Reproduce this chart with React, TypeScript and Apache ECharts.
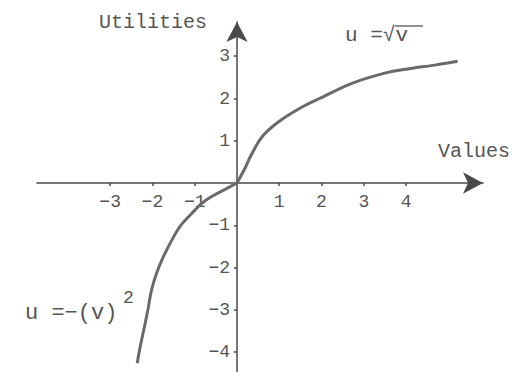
import React, { useEffect, useRef } from "react";
import * as echarts from "echarts";

// Tick positions shown on each axis (no label at the origin)
const xTickValues = [-3, -2, -1, 1, 2, 3, 4];
const yTickValues = [-4, -3, -2, -1, 1, 2, 3];

// Gain branch: u = sqrt(v)
const gainCurve: [number, number][] = [
  [0, 0],
  [0.19, 0.35],
  [0.31, 0.61],
  [0.59, 1.09],
  [0.97, 1.44],
  [1.54, 1.8],
  [1.95, 2.0],
  [2.72, 2.36],
  [3.5, 2.6],
  [4.04, 2.7],
  [4.68, 2.79],
  [5.22, 2.88],
];

// Loss branch: u = -(v)^2
const lossCurve: [number, number][] = [
  [0, 0],
  [-0.28, -0.15],
  [-0.6, -0.32],
  [-0.83, -0.48],
  [-1.07, -0.72],
  [-1.35, -1.03],
  [-1.54, -1.35],
  [-1.74, -1.74],
  [-1.9, -2.13],
  [-2.02, -2.53],
  [-2.1, -2.96],
  [-2.17, -3.31],
  [-2.29, -3.88],
  [-2.36, -4.26],
];

const FONT = "'Liberation Mono', 'Courier New', monospace";
const AXIS_COLOR = "#4a4a4a";
const TEXT_COLOR = "#555555";
const CURVE_COLOR = "#6a6a6a";

const minusFormatter = (v: number) => (v < 0 ? "\u2212" + Math.abs(v) : String(v));

export default function App() {
  const ref = useRef<HTMLDivElement>(null);

  useEffect(() => {
    if (!ref.current) return;
    const chart = echarts.init(ref.current, null, { renderer: "svg" });

    const axisLine = {
      onZero: false,
      symbol: ["none", "arrow"],
      symbolSize: [16, 20],
      lineStyle: { color: AXIS_COLOR, width: 1.5 },
    };

    chart.setOption({
      animation: false,
      backgroundColor: "#ffffff",
      grid: {
        left: 37,
        right: 29,
        top: 22,
        bottom: 0,
        containLabel: false,
        outerBoundsMode: "none",
      },
      xAxis: {
        type: "value",
        position: "bottom",
        // shift the axis up so it crosses the y axis at u = 0
        offset: -189,
        min: -4.73,
        max: 5.82,
        name: "Values",
        nameLocation: "end",
        nameGap: -45,
        nameMoveOverlap: false,
        nameTextStyle: {
          fontFamily: FONT,
          fontSize: 20,
          color: TEXT_COLOR,
          align: "left",
          verticalAlign: "bottom",
          padding: [0, 0, 22, 0],
        },
        axisLine,
        axisTick: {
          show: true,
          customValues: xTickValues,
          length: 3,
          lineStyle: { color: AXIS_COLOR, width: 1.5 },
        },
        axisLabel: {
          customValues: xTickValues,
          margin: 10,
          fontFamily: FONT,
          fontSize: 18,
          color: TEXT_COLOR,
          formatter: minusFormatter,
        },
        splitLine: { show: false },
      },
      yAxis: {
        type: "value",
        position: "left",
        // shift the axis right so it crosses the x axis at v = 0
        offset: -200,
        min: -4.47,
        max: 3.81,
        name: "Utilities",
        nameLocation: "end",
        nameGap: 0,
        nameMoveOverlap: false,
        nameTextStyle: {
          fontFamily: FONT,
          fontSize: 20,
          color: TEXT_COLOR,
          align: "right",
          verticalAlign: "middle",
          padding: [0, 30, 0, 0],
        },
        axisLine,
        axisTick: {
          show: true,
          customValues: yTickValues,
          length: 3,
          lineStyle: { color: AXIS_COLOR, width: 1.5 },
        },
        axisLabel: {
          customValues: yTickValues,
          margin: 7,
          fontFamily: FONT,
          fontSize: 18,
          color: TEXT_COLOR,
          formatter: minusFormatter,
        },
        splitLine: { show: false },
      },
      series: [
        {
          name: "u = sqrt(v)",
          type: "line",
          data: gainCurve,
          showSymbol: false,
          smooth: 0.35,
          lineStyle: { color: CURVE_COLOR, width: 3 },
        },
        {
          name: "u = -(v)^2",
          type: "line",
          data: lossCurve,
          showSymbol: false,
          smooth: 0.35,
          lineStyle: { color: CURVE_COLOR, width: 3 },
        },
      ],
      graphic: [
        {
          type: "text",
          left: 345,
          top: 25,
          style: {
            text: "u =\u221Av",
            font: `21px ${FONT}`,
            fill: TEXT_COLOR,
          },
        },
        {
          type: "line",
          shape: { x1: 395, y1: 26, x2: 423, y2: 26 },
          style: { stroke: TEXT_COLOR, lineWidth: 1.3 },
        },
        {
          type: "text",
          left: 25,
          top: 302,
          style: {
            text: "u =\u2212(v)",
            font: `22px ${FONT}`,
            fill: TEXT_COLOR,
          },
        },
        {
          type: "text",
          left: 123,
          top: 289,
          style: {
            text: "2",
            font: `18px ${FONT}`,
            fill: TEXT_COLOR,
          },
        },
      ],
    });

    return () => chart.dispose();
  }, []);

  return (
    <div
      ref={ref}
      style={{ position: "fixed", left: 0, top: 0, width: 512, height: 372 }}
    />
  );
}
